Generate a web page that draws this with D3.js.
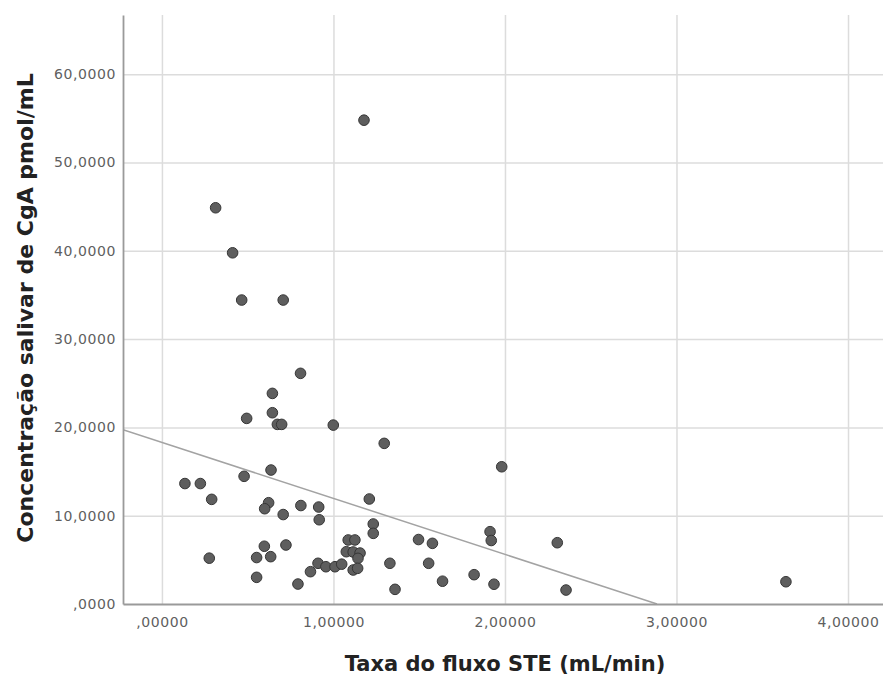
<!DOCTYPE html>
<html>
<head>
<meta charset="utf-8">
<script src="https://cdn.jsdelivr.net/npm/d3@7"></script>
<style>
  html, body { margin: 0; padding: 0; background: #fff; }
  svg { display: block; }
  .tick-text { font-family: "DejaVu Sans", sans-serif; font-size: 14px; fill: #5f5f5f; letter-spacing: 0.6px; }
  .axis-title { font-family: "DejaVu Sans", sans-serif; font-weight: bold; fill: #222; }
</style>
</head>
<body>
<svg id="chart" width="883" height="675"></svg>
<script>
// Taxa do fluxo STE (mL/min)
const flowRate = [
  1.178, 0.313, 0.412, 0.465, 0.707, 0.808, 0.644, 0.644, 0.494, 0.673,
  0.698, 0.999, 1.296, 1.981, 0.636, 0.479, 0.134, 0.224, 0.290, 1.209,
  0.622, 0.599, 0.707, 0.810, 0.914, 0.917, 1.232, 1.232, 1.913, 1.920,
  2.305, 1.496, 1.577, 0.276, 0.597, 0.552, 0.634, 0.723, 0.552, 0.793,
  0.866, 0.910, 0.956, 1.009, 1.048, 1.086, 1.125, 1.075, 1.115, 1.155,
  1.143, 1.115, 1.141, 1.329, 1.359, 1.555, 1.636, 1.820, 1.936, 2.356,
  3.638
];
// Concentração salivar de CgA pmol/mL
const cgaConc = [
  54.79, 44.87, 39.77, 34.42, 34.42, 26.12, 23.85, 21.66, 21.02, 20.34,
  20.34, 20.26, 18.19, 15.54, 15.17, 14.46, 13.64, 13.64, 11.85, 11.89,
  11.47, 10.79, 10.13, 11.15, 10.98, 9.54, 9.06, 8.00, 8.19, 7.19,
  6.94, 7.30, 6.87, 5.19, 6.54, 5.26, 5.36, 6.68, 3.02, 2.26,
  3.66, 4.61, 4.22, 4.22, 4.51, 7.25, 7.25, 5.92, 5.89, 5.77,
  5.17, 3.85, 4.04, 4.61, 1.66, 4.61, 2.58, 3.32, 2.24, 1.58,
  2.52
];
const xTicks = [0, 1, 2, 3, 4];
const yTicks = [0, 10, 20, 30, 40, 50, 60];
// linear fit line
const fitIntercept = 18.3;
const fitSlope = -6.34;

const svg = d3.select("#chart");
const plot = { left: 123, right: 883, top: 15, bottom: 604 };

const x = d3.scaleLinear().domain([-0.227, 4.204]).range([plot.left, plot.right]);
const y = d3.scaleLinear().domain([0, 66.7]).range([plot.bottom, plot.top]);

const fmt = (v, d) => {
  const s = v.toFixed(d).replace(".", ",");
  return s.startsWith("0,") ? s.slice(1) : s;
};

svg.append("defs").append("clipPath").attr("id", "clip")
  .append("rect")
  .attr("x", plot.left).attr("y", plot.top)
  .attr("width", plot.right - plot.left).attr("height", plot.bottom - plot.top);

// Grid lines
svg.append("g")
  .attr("transform", `translate(0,${plot.bottom})`)
  .call(d3.axisBottom(x).tickValues(xTicks).tickSize(-(plot.bottom - plot.top)).tickFormat(() => ""))
  .call(g => g.select(".domain").remove())
  .call(g => g.selectAll(".tick line").attr("stroke", "#dcdcdc").attr("stroke-width", 1.5));

svg.append("g")
  .attr("transform", `translate(${plot.left},0)`)
  .call(d3.axisLeft(y).tickValues(yTicks.slice(1)).tickSize(-(plot.right - plot.left)).tickFormat(() => ""))
  .call(g => g.select(".domain").remove())
  .call(g => g.selectAll(".tick line").attr("stroke", "#dcdcdc").attr("stroke-width", 1.5));

// Fit line
const xMin = x.domain()[0];
const xZero = -fitIntercept / fitSlope;
svg.append("line")
  .attr("clip-path", "url(#clip)")
  .attr("x1", x(xMin)).attr("y1", y(fitIntercept + fitSlope * xMin))
  .attr("x2", x(xZero)).attr("y2", y(0))
  .attr("stroke", "#a3a3a3").attr("stroke-width", 1.5);

// Axes
svg.append("g")
  .attr("transform", `translate(0,${plot.bottom})`)
  .call(d3.axisBottom(x).tickValues(xTicks).tickSize(0).tickPadding(13).tickFormat(d => fmt(d, 5)))
  .call(g => g.select(".domain").attr("stroke", "#9a9a9a").attr("stroke-width", 1.8))
  .call(g => g.selectAll("text").attr("class", "tick-text").attr("fill", null).attr("font-size", null).attr("font-family", null));

svg.append("g")
  .attr("transform", `translate(${plot.left},0)`)
  .call(d3.axisLeft(y).tickValues(yTicks).tickSize(0).tickPadding(7).tickFormat(d => fmt(d, 4)))
  .call(g => g.select(".domain").attr("stroke", "#9a9a9a").attr("stroke-width", 1.8))
  .call(g => g.selectAll("text").attr("class", "tick-text").attr("fill", null).attr("font-size", null).attr("font-family", null));

// Points
svg.append("g")
  .selectAll("circle")
  .data(flowRate.map((v, i) => [v, cgaConc[i]]))
  .join("circle")
  .attr("cx", d => x(d[0]))
  .attr("cy", d => y(d[1]))
  .attr("r", 5.3)
  .attr("fill", "#5e5e5e")
  .attr("stroke", "#363636")
  .attr("stroke-width", 1);

// Titles
svg.append("text")
  .attr("class", "axis-title")
  .attr("font-size", 21)
  .attr("x", 505).attr("y", 671)
  .attr("text-anchor", "middle")
  .text("Taxa do fluxo STE (mL/min)");

svg.append("text")
  .attr("class", "axis-title")
  .attr("font-size", 22)
  .attr("transform", "translate(33,308) rotate(-90)")
  .attr("text-anchor", "middle")
  .text("Concentração salivar de CgA pmol/mL");
</script>
</body>
</html>
